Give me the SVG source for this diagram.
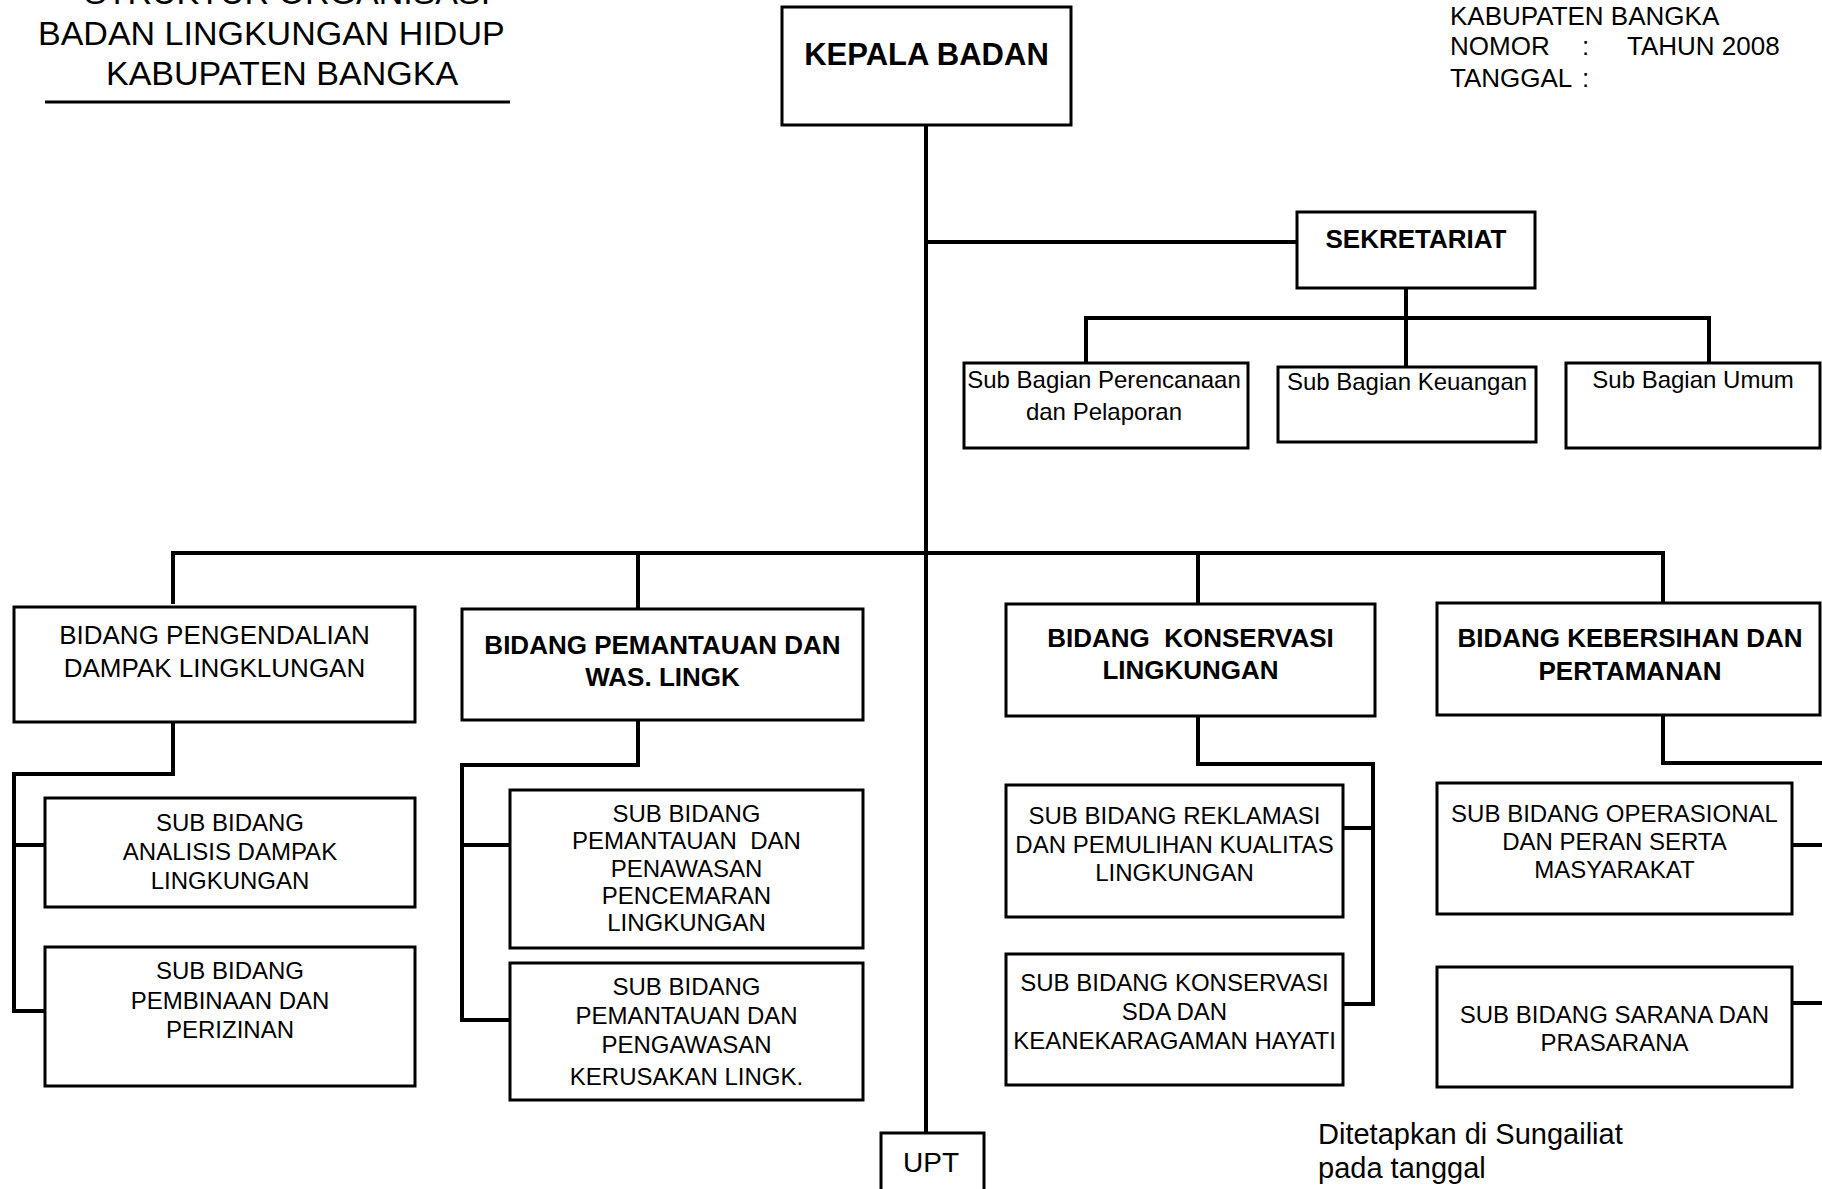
<svg xmlns="http://www.w3.org/2000/svg" width="1822" height="1189" viewBox="0 0 1822 1189">
<style>
text{font-family:"Liberation Sans",Arial,sans-serif;fill:#000;white-space:pre}
.box{fill:#fff;stroke:#000;stroke-width:3}
.con{fill:none;stroke:#000;stroke-width:4;stroke-linecap:butt;stroke-linejoin:miter}
.t34{font-size:34px}
.t26{font-size:26px}
.t24{font-size:24px}
.b26{font-size:26px;font-weight:bold}
.b31{font-size:31px;font-weight:bold}
.c{text-anchor:middle}
</style>
<rect width="1822" height="1189" fill="#fff"/>

<g id="title">
<text class="t34" x="84" y="4">STRUKTUR ORGANISASI</text>
<text class="t34" x="38" y="45">BADAN LINGKUNGAN HIDUP</text>
<text class="t34" x="106" y="85">KABUPATEN BANGKA</text>
<line x1="45" y1="102" x2="510" y2="102" stroke="#000" stroke-width="3"/>
</g>

<g id="header-right">
<text class="t26" x="1450" y="25">KABUPATEN BANGKA</text>
<text class="t26" x="1450" y="55">NOMOR</text>
<text class="t26" x="1582" y="55">:</text>
<text class="t26" x="1627" y="55">TAHUN 2008</text>
<text class="t26" x="1450" y="87">TANGGAL</text>
<text class="t26" x="1582" y="87">:</text>
</g>

<g id="connectors">
<path class="con" d="M926,125 V1133"/>
<path class="con" d="M926,242 H1297"/>
<path class="con" d="M1406,288 V367"/>
<path class="con" d="M1086,365 V318 H1709 V363"/>
<path class="con" d="M173,604 V553 H1663 V603"/>
<path class="con" d="M638,553 V609"/>
<path class="con" d="M1198,553 V604"/>
<path class="con" d="M173,722 V774 H14 V1011 H45"/>
<path class="con" d="M14,845 H45"/>
<path class="con" d="M638,720 V765 H462 V1020 H510"/>
<path class="con" d="M462,845 H510"/>
<path class="con" d="M1198,716 V764 H1373 V1004 H1343"/>
<path class="con" d="M1373,828 H1343"/>
<path class="con" d="M1663,715 V763 H1840"/>
<path class="con" d="M1792,845 H1840"/>
<path class="con" d="M1792,1003 H1840"/>
</g>

<g id="kepala-badan">
<rect class="box" x="782" y="7" width="289" height="118"/>
<text class="b31 c" x="926.5" y="65">KEPALA BADAN</text>
</g>

<g id="sekretariat">
<rect class="box" x="1297" y="212" width="238" height="76"/>
<text class="b26 c" x="1416" y="248">SEKRETARIAT</text>
</g>

<g id="sub-bagian-perencanaan">
<rect class="box" x="964" y="363" width="284" height="85"/>
<text class="t24 c" x="1104" y="388">Sub Bagian Perencanaan</text>
<text class="t24 c" x="1104" y="420">dan Pelaporan</text>
</g>

<g id="sub-bagian-keuangan">
<rect class="box" x="1278" y="367" width="258" height="75"/>
<text class="t24 c" x="1407" y="390">Sub Bagian Keuangan</text>
</g>

<g id="sub-bagian-umum">
<rect class="box" x="1566" y="363" width="254" height="85"/>
<text class="t24 c" x="1693" y="388">Sub Bagian Umum</text>
</g>

<g id="bidang-pengendalian">
<rect class="box" x="14" y="607" width="401" height="115"/>
<text class="t26 c" x="214.5" y="644">BIDANG PENGENDALIAN</text>
<text class="t26 c" x="214.5" y="677">DAMPAK LINGKLUNGAN</text>
</g>

<g id="sub-bidang-analisis">
<rect class="box" x="45" y="798" width="370" height="109"/>
<text class="t24 c" x="230" y="831">SUB BIDANG</text>
<text class="t24 c" x="230" y="860">ANALISIS DAMPAK</text>
<text class="t24 c" x="230" y="889">LINGKUNGAN</text>
</g>

<g id="sub-bidang-pembinaan">
<rect class="box" x="45" y="947" width="370" height="139"/>
<text class="t24 c" x="230" y="979">SUB BIDANG</text>
<text class="t24 c" x="230" y="1009">PEMBINAAN DAN</text>
<text class="t24 c" x="230" y="1038">PERIZINAN</text>
</g>

<g id="bidang-pemantauan">
<rect class="box" x="462" y="609" width="401" height="111"/>
<text class="b26 c" x="662.5" y="654">BIDANG PEMANTAUAN DAN</text>
<text class="b26 c" x="662.5" y="686">WAS. LINGK</text>
</g>

<g id="sub-bidang-pencemaran">
<rect class="box" x="510" y="790" width="353" height="158"/>
<text class="t24 c" x="686.5" y="822">SUB BIDANG</text>
<text class="t24 c" x="686.5" y="849">PEMANTAUAN  DAN</text>
<text class="t24 c" x="686.5" y="877">PENAWASAN</text>
<text class="t24 c" x="686.5" y="904">PENCEMARAN</text>
<text class="t24 c" x="686.5" y="931">LINGKUNGAN</text>
</g>

<g id="sub-bidang-kerusakan">
<rect class="box" x="510" y="963" width="353" height="137"/>
<text class="t24 c" x="686.5" y="995">SUB BIDANG</text>
<text class="t24 c" x="686.5" y="1024">PEMANTAUAN DAN</text>
<text class="t24 c" x="686.5" y="1053">PENGAWASAN</text>
<text class="t24 c" x="686.5" y="1085">KERUSAKAN LINGK.</text>
</g>

<g id="bidang-konservasi">
<rect class="box" x="1006" y="604" width="369" height="112"/>
<text class="b26 c" x="1190.5" y="647">BIDANG  KONSERVASI</text>
<text class="b26 c" x="1190.5" y="679">LINGKUNGAN</text>
</g>

<g id="sub-bidang-reklamasi">
<rect class="box" x="1006" y="785" width="337" height="132"/>
<text class="t24 c" x="1174.5" y="824">SUB BIDANG REKLAMASI</text>
<text class="t24 c" x="1174.5" y="853">DAN PEMULIHAN KUALITAS</text>
<text class="t24 c" x="1174.5" y="881">LINGKUNGAN</text>
</g>

<g id="sub-bidang-konservasi-sda">
<rect class="box" x="1006" y="954" width="337" height="131"/>
<text class="t24 c" x="1174.5" y="991">SUB BIDANG KONSERVASI</text>
<text class="t24 c" x="1174.5" y="1020">SDA DAN</text>
<text class="t24 c" x="1174.5" y="1049">KEANEKARAGAMAN HAYATI</text>
</g>

<g id="bidang-kebersihan">
<rect class="box" x="1437" y="603" width="383" height="112"/>
<text class="b26 c" x="1630" y="647">BIDANG KEBERSIHAN DAN</text>
<text class="b26 c" x="1630" y="680">PERTAMANAN</text>
</g>

<g id="sub-bidang-operasional">
<rect class="box" x="1437" y="783" width="355" height="131"/>
<text class="t24 c" x="1614.5" y="822">SUB BIDANG OPERASIONAL</text>
<text class="t24 c" x="1614.5" y="850">DAN PERAN SERTA</text>
<text class="t24 c" x="1614.5" y="878">MASYARAKAT</text>
</g>

<g id="sub-bidang-sarana">
<rect class="box" x="1437" y="967" width="355" height="120"/>
<text class="t24 c" x="1614.5" y="1023">SUB BIDANG SARANA DAN</text>
<text class="t24 c" x="1614.5" y="1051">PRASARANA</text>
</g>

<g id="upt">
<rect class="box" x="881" y="1133" width="103" height="70"/>
<text class="c" style="font-size:28px" x="931" y="1172">UPT</text>
</g>

<g id="ditetapkan">
<text style="font-size:29px" x="1318" y="1144">Ditetapkan di Sungailiat</text>
<text style="font-size:29px" x="1318" y="1178">pada tanggal</text>
</g>
</svg>
